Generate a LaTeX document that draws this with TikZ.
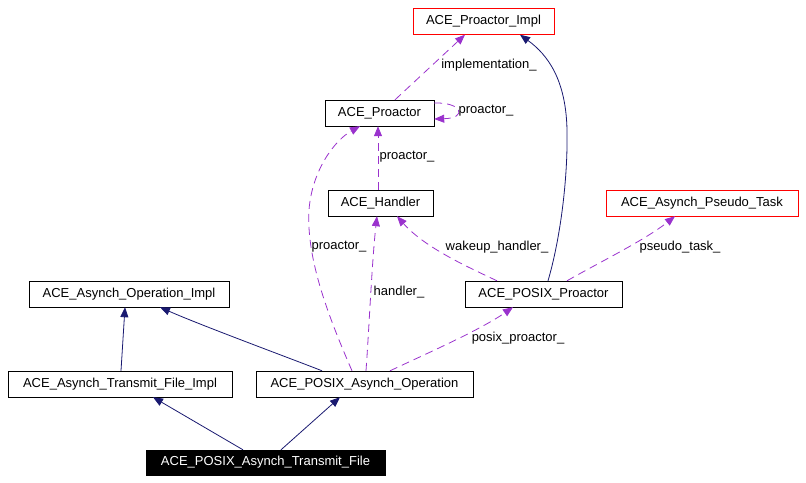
\documentclass[tikz,border=0pt]{standalone}
\usepackage{fontspec}
\setmainfont{Liberation Sans}
\usetikzlibrary{arrows.meta}
\definecolor{inhcol}{rgb}{0.098, 0.098, 0.439}
\definecolor{usecol}{rgb}{0.604, 0.196, 0.804}
\tikzstyle{cls}=[draw,rectangle,inner sep=0pt,minimum height=26pt,fill=white,font=\fontsize{13pt}{15pt}\selectfont]
\tikzstyle{ext}=[cls,draw=red]
\tikzstyle{me}=[cls,fill=black,text=white]
\tikzstyle{inherit}=[inhcol,line width=0.8pt,-{Triangle[length=10pt,width=8pt]}]
\tikzstyle{uses}=[usecol,line width=0.8pt,dash pattern=on 8pt off 5pt,-{Triangle[length=10pt,width=8pt]}]
\tikzstyle{lbl}=[inner sep=1pt,font=\fontsize{13pt}{15pt}\selectfont]
\begin{document}
\begin{tikzpicture}[x=1pt,y=-1pt]
\useasboundingbox (0,0) rectangle (806,482);

\node[ext, minimum width=141pt] (impl) at (483.5,21.5) {ACE\_Proactor\_Impl};
\node[cls, minimum width=109pt] (proactor) at (379.5,113) {ACE\_Proactor};
\node[cls, minimum width=105pt] (handler) at (380.5,203) {ACE\_Handler};
\node[ext, minimum width=192pt] (pseudo) at (702,203) {ACE\_Asynch\_Pseudo\_Task};
\node[cls, minimum width=200pt] (opimpl) at (129,294) {ACE\_Asynch\_Operation\_Impl};
\node[cls, minimum width=157pt] (posixpro) at (543.5,294) {ACE\_POSIX\_Proactor};
\node[cls, minimum width=224pt] (tfimpl) at (120,384) {ACE\_Asynch\_Transmit\_File\_Impl};
\node[cls, minimum width=217pt] (posixop) at (364.5,384) {ACE\_POSIX\_Asynch\_Operation};
\node[me, minimum width=239pt, minimum height=25pt] (tf) at (265.5,462.5) {ACE\_POSIX\_Asynch\_Transmit\_File};

% inheritance
\draw[inherit] ([xshift=-22.5pt]tf.north) -- ([xshift=33pt]tfimpl.south);
\draw[inherit] ([xshift=15.5pt]tf.north) -- ([xshift=-24.5pt]posixop.south);
\draw[inherit] ([xshift=1pt]tfimpl.north) -- ([xshift=-4pt]opimpl.south);
\draw[inherit] ([xshift=-42.5pt]posixop.north) .. controls (300,362) and (200,325) .. ([xshift=31pt]opimpl.south);
\draw[inherit] ([xshift=4.5pt]posixpro.north) .. controls (560,240) and (568,180) .. (567,130)
  .. controls (566,80) and (548,55) .. ([xshift=36.5pt]impl.south);

% usage
\draw[uses] ([xshift=15.5pt]proactor.north) -- ([xshift=-18.5pt]impl.south);
\draw[uses] ([yshift=10pt]proactor.east) .. controls (462,102) and (468,118) .. ([yshift=-6pt]proactor.east);
\draw[uses] ([xshift=-2.5pt]handler.north) -- ([xshift=-1.5pt]proactor.south);
\draw[uses] ([xshift=-12.5pt]posixop.north) .. controls (330,320) and (306,260) .. (309,210)
  .. controls (312,170) and (335,140) .. ([xshift=-19.5pt]proactor.south);
\draw[uses] ([xshift=1.5pt]posixop.north) .. controls (369,330) and (372,260) .. ([xshift=-3.5pt]handler.south);
\draw[uses] ([xshift=25.5pt]posixop.north) .. controls (430,352) and (480,330) .. ([xshift=-30.5pt]posixpro.south);
\draw[uses] ([xshift=-46.5pt]posixpro.north) .. controls (470,268) and (425,248) .. ([xshift=16.5pt]handler.south);
\draw[uses] ([xshift=23.5pt]posixpro.north) .. controls (600,262) and (645,240) .. ([xshift=-27pt]pseudo.south);

\node[lbl] (limpl) at (489,65) {implementation\_};
\node[lbl] (lself) at (486,111) {proactor\_};
\node[lbl] (lhand) at (407,157) {proactor\_};
\node[lbl] (lop) at (339,247) {proactor\_};
\node[lbl] (lhnd) at (399,292) {handler\_};
\node[lbl] (lposix) at (518,338) {posix\_proactor\_};
\node[lbl] (lwake) at (497,247) {wakeup\_handler\_};
\node[lbl] (lpseudo) at (680,247) {pseudo\_task\_};
\end{tikzpicture}
\end{document}
